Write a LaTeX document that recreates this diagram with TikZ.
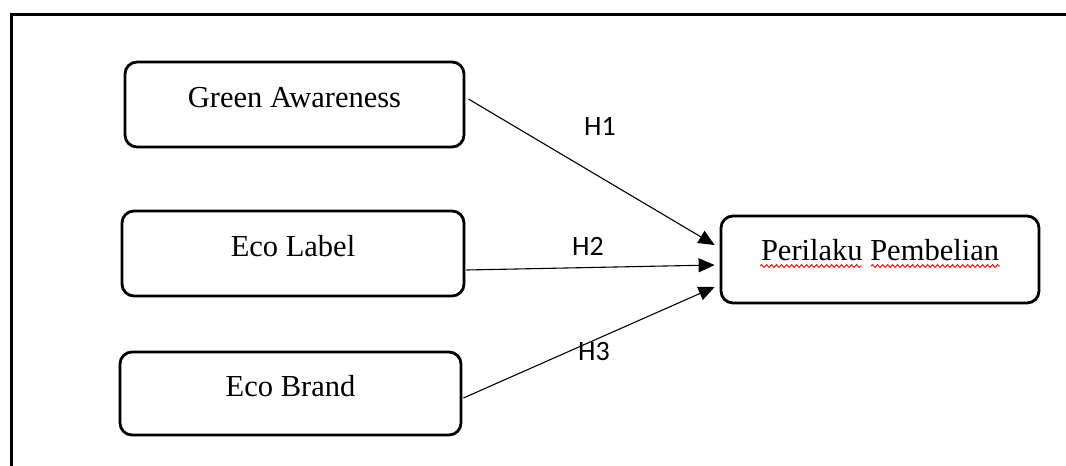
\documentclass[tikz,border=0pt]{standalone}
\usepackage{fontspec}
\setmainfont{Liberation Serif}
\newfontfamily\labelfont{Carlito}
\usetikzlibrary{arrows.meta,decorations.pathmorphing}

\tikzset{
  varbox/.style={draw, rounded corners=12pt, line width=2.8pt, inner sep=0pt,
    font=\fontsize{30.5}{36}\selectfont, text height=20pt, text depth=15pt},
  hyp/.style={line width=1.1pt, -{Triangle[length=16pt,width=14pt]}},
  hlabel/.style={font=\labelfont\fontsize{28}{32}\selectfont, inner sep=0pt},
  spell/.style={red, line width=0.9pt, decorate,
    decoration={snake, amplitude=1.4pt, segment length=5pt}}
}

\begin{document}
\begin{tikzpicture}[x=1pt,y=-1pt]
  \useasboundingbox (0,0) rectangle (1066,466);
  % outer frame (only top and left edges show)
  \draw[line width=3pt] (11,466) -- (11,14) -- (1066,14);
  % independent variables
  \node[varbox, minimum width=339pt, minimum height=85pt] (ga) at (294.5,104.5) {Green Awareness};
  \node[varbox, minimum width=342pt, minimum height=85pt] (el) at (293,253.5) {Eco Label};
  \node[varbox, minimum width=341pt, minimum height=83pt] (eb) at (290.5,393.5) {Eco Brand};
  % dependent variable
  \node[varbox, minimum width=318pt, minimum height=87pt, text depth=18pt] (pp) at (880,259.5) {Perilaku Pembelian};
  % spell-check marks under the text
  \draw[spell] (760,266) -- (862,266);
  \draw[spell] (871,266) -- (1000,266);
  % hypotheses
  \draw[hyp] ([xshift=3pt,yshift=5.5pt]ga.east) -- ([xshift=-5pt,yshift=14.5pt]pp.west);
  \draw[hyp] ([xshift=1pt,yshift=-16.5pt]el.east) -- ([xshift=-5pt,yshift=-5.5pt]pp.west);
  \draw[hyp] ([xshift=1pt,yshift=-4.5pt]eb.east) -- ([xshift=-5pt,yshift=-27.5pt]pp.west);
  \node[hlabel] (h1) at (600,126) {H1};
  \node[hlabel] (h2) at (588,246) {H2};
  \node[hlabel] (h3) at (594,352) {H3};
\end{tikzpicture}
\end{document}
